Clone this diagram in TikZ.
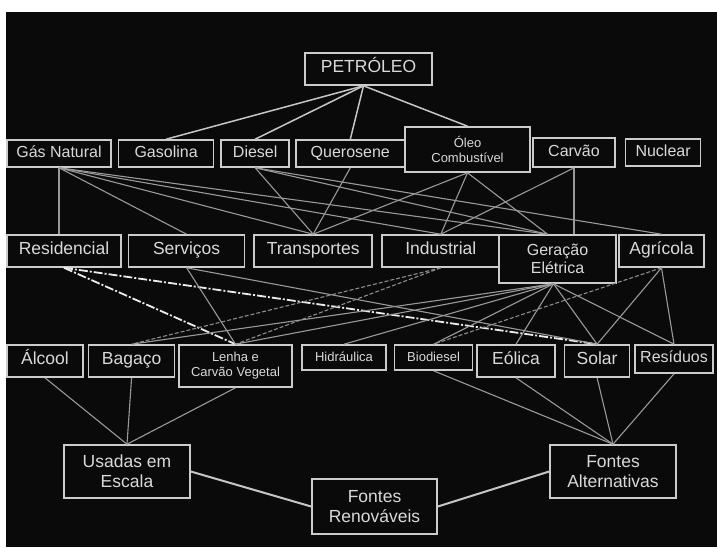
\documentclass[tikz,border=0pt]{standalone}
\usepackage{fontspec}
\setmainfont{Liberation Sans}
\usetikzlibrary{positioning}

\begin{document}
\begin{tikzpicture}[x=1pt, y=-1pt, node distance=6pt, font=\fontsize{16}{18}\selectfont]
\tikzstyle{box}=[draw=gray!40, fill=black!96, line width=1.6pt, text=gray!30, align=center, inner sep=1pt, minimum height=27pt]
\tikzstyle{tag}=[box, text height=0.72em, text depth=0.02em]
\tikzstyle{small}=[font=\fontsize{13}{15}\selectfont]
\tikzstyle{big}=[font=\fontsize{17.5}{20}\selectfont, minimum height=32pt]
\tikzstyle{feed}=[draw=gray!45, line width=1.5pt]
\tikzstyle{link}=[draw=gray!80, line width=1.1pt]
\tikzstyle{homeline}=[draw=white!85!gray, line width=1.8pt, dash pattern=on 9pt off 2pt on 2pt off 2pt]
\tikzstyle{farmline}=[draw=gray!90, line width=1.1pt, dash pattern=on 4pt off 2pt]
% backdrop
\fill[white] (0,0) rectangle (717,547);
\fill[black!96] (6,12) rectangle (717,547);
% source
\node[tag, big, minimum width=127pt] (petroleo) at (368.5,69) {PETRÓLEO};
% fuels
\node[tag, minimum width=104pt] (gasnat) at (59,153.5) {Gás Natural};
\node[tag, minimum width=95pt, right=of gasnat] (gasolina) {Gasolina};
\node[tag, minimum width=68pt, right=of gasolina] (diesel) {Diesel};
\node[tag, minimum width=109pt, right=5pt of diesel] (querosene) {Querosene};
\node[box, small, minimum width=125pt, minimum height=45pt] (oleo) at (467.5,149.5) {Óleo\\Combustível};
\node[tag, minimum width=82pt, minimum height=29pt] (carvao) at (574,152.5) {Carvão};
\node[tag, minimum width=75pt, right=9pt of carvao] (nuclear) {Nuclear};
% sectors
\node[tag, big, minimum width=114pt] (residencial) at (64,251) {Residencial};
\node[tag, big, minimum width=116pt, right=of residencial] (servicos) {Serviços};
\node[tag, big, minimum width=118pt, right=8pt of servicos] (transportes) {Transportes};
\node[tag, big, minimum width=118pt, right=8pt of transportes] (industrial) {Industrial};
\node[box, minimum width=117pt, minimum height=48pt] (geracao) at (557.5,259) {Geração\\Elétrica};
\node[tag, big, minimum width=85pt] (agricola) at (661.5,251) {Agrícola};
% renewables
\node[tag, big, minimum width=76pt] (alcool) at (45,361) {Álcool};
\node[tag, big, minimum width=86pt, right=4pt of alcool] (bagaco) {Bagaço};
\node[box, small, minimum width=113pt, minimum height=42pt] (lenha) at (235.5,366) {Lenha e\\Carvão Vegetal};
\node[tag, small, minimum width=84pt, minimum height=25pt] (hidraulica) at (344,357.5) {Hidráulica};
\node[tag, small, minimum width=78pt, minimum height=25pt, right=7pt of hidraulica] (biodiesel) {Biodiesel};
\node[tag, big, minimum width=78pt] (eolica) at (516,361) {Eólica};
\node[tag, big, minimum width=65pt, right=8pt of eolica] (solar) {Solar};
\node[tag, minimum width=78pt, minimum height=28pt] (residuos) at (674,359) {Resíduos};
% groups
\node[box, big, minimum width=126pt, minimum height=53pt] (usadas) at (127,471.5) {Usadas em\\Escala};
\node[box, big, minimum width=125pt, minimum height=55pt] (renovaveis) at (374.5,506.5) {Fontes\\Renováveis};
\node[box, big, minimum width=126pt, minimum height=53pt] (alternativas) at (613,471.5) {Fontes\\Alternativas};
% petroleo to derivatives
\foreach \y in {gasolina,diesel,querosene,oleo}{\draw[feed] ([xshift=-5pt]petroleo.south) -- (\y.north);}
% fuels to sectors
\draw[link] (gasnat.south) -- (gasnat.south |- residencial.north);
\draw[link] (carvao.south) -- (carvao.south |- geracao.north);
\foreach \x/\y in {gasnat/servicos,gasnat/transportes,gasnat/industrial,diesel/transportes,diesel/agricola,querosene/transportes,oleo/transportes,oleo/industrial,carvao/industrial}{\draw[link] (\x.south) -- (\y.north);}
\foreach \x in {gasnat,diesel,oleo}{\draw[link] (\x.south) -- ([xshift=-10pt]geracao.north);}
% sectors to sources
\foreach \y in {lenha,solar}{\draw[homeline] (residencial.south) -- (\y.north);}
\foreach \y in {lenha,solar}{\draw[link] (servicos.south) -- (\y.north);}
\foreach \y in {lenha,bagaco}{\draw[farmline] (industrial.south) -- (\y.north);}
\foreach \y in {bagaco,lenha,hidraulica,biodiesel,eolica,solar,residuos}{\draw[link] ([xshift=-4pt]geracao.south) -- (\y.north);}
\draw[farmline] (agricola.south) -- (biodiesel.north);
\foreach \y in {solar,residuos}{\draw[link] (agricola.south) -- (\y.north);}
% sources to groups
\foreach \x in {alcool,bagaco,lenha}{\draw[link] (\x.south) -- (usadas.north);}
\foreach \x in {biodiesel,eolica,solar,residuos}{\draw[link] (\x.south) -- (alternativas.north);}
\draw[feed, line width=2pt] (usadas.east) -- (renovaveis.west);
\draw[feed, line width=2pt] (renovaveis.east) -- (alternativas.west);
\end{tikzpicture}
\end{document}
